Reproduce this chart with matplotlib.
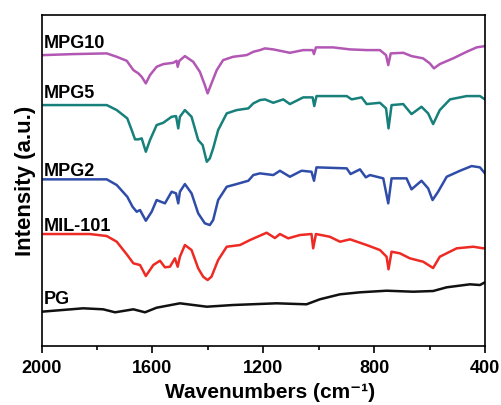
import matplotlib.pyplot as plt
from matplotlib.ticker import MultipleLocator

plt.rcParams['font.family'] = ['Liberation Sans', 'DejaVu Sans']
plt.rcParams['font.weight'] = 'bold'

# FTIR spectra, wavenumber (cm-1) vs intensity (a.u., already offset)
mpg10_wn = [1994, 1886, 1765, 1729, 1693, 1669, 1651, 1639, 1624, 1609, 1585, 1561,
            1525, 1513, 1509, 1503, 1483, 1453, 1429, 1411, 1401, 1387, 1368, 1345,
            1309, 1260, 1236, 1212, 1194, 1164, 1104, 1056, 1022, 1017, 1010, 948,
            887, 827, 779, 757, 749, 740, 695, 665, 623, 599, 584, 563, 515, 466, 430, 400]
mpg10_i = [350, 351, 351.7, 348.3, 344.3, 335, 331.7, 328.3, 321.7, 330, 338.3, 341,
           342.3, 344.3, 338.3, 344.3, 349, 343.3, 333.3, 320, 311.7, 321.7, 335, 345,
           348.3, 350, 353.3, 355, 356.7, 355.7, 352.3, 355, 355, 351, 357.7, 357.7,
           355.7, 355, 355, 350, 340, 351.7, 352.3, 349, 346.7, 341.7, 336.7, 341, 346.7, 353.3, 357.7, 359]

mpg5_wn = [1994, 1765, 1729, 1691, 1675, 1663, 1651, 1639, 1624, 1609, 1585, 1561,
           1531, 1515, 1507, 1501, 1483, 1459, 1435, 1419, 1404, 1393, 1381, 1363,
           1332, 1296, 1254, 1236, 1212, 1194, 1164, 1128, 1104, 1056, 1022, 1016,
           1008, 899, 881, 845, 827, 779, 757, 748, 737, 695, 665, 629, 605, 587,
           563, 526, 466, 418, 400]
mpg5_i = [300, 300, 295, 286.7, 275, 265.7, 265.7, 266.7, 253.3, 265, 280, 282.3,
          288.3, 289, 276.7, 288.3, 295, 288.3, 265, 260, 243.3, 246.7, 256.7, 275,
          291.7, 295, 296.7, 301.7, 305, 305.7, 302.3, 305.7, 301, 307.7, 307.7, 299,
          309, 309, 305.7, 307.7, 301, 302.3, 296.7, 276.7, 300, 301, 291, 298.3, 291.7, 281,
          295, 305.7, 309, 309, 305.7]

mpg2_wn = [1994, 1765, 1729, 1691, 1672, 1657, 1645, 1624, 1603, 1585, 1555, 1531,
           1515, 1507, 1501, 1483, 1459, 1435, 1411, 1393, 1381, 1363, 1332, 1296,
           1254, 1236, 1212, 1164, 1140, 1104, 1062, 1026, 1017, 1008, 899, 885,
           851, 830, 815, 767, 749, 737, 683, 665, 629, 605, 589, 569, 538, 490,
           448, 418, 400]
mpg2_i = [225.7, 225.7, 220, 208.3, 198.3, 193.3, 195, 184.3, 193.3, 205, 201.7, 213.3,
          211.7, 201.7, 213.3, 221, 211.7, 191.7, 181.7, 180, 185, 205, 218.3, 221,
          224.3, 230, 231.7, 230, 234.3, 228.3, 234.3, 233.3, 224.3, 237.7, 236.7, 231,
          235.7, 227.7, 230, 226.7, 201.7, 226.7, 226.7, 215.7, 224.3, 216.7, 205, 213.3, 228.3, 234.3,
          239, 237.7, 231.7]

mil101_wn = [1994, 1826, 1765, 1729, 1691, 1669, 1645, 1624, 1597, 1573, 1555, 1537,
             1519, 1509, 1501, 1483, 1459, 1435, 1417, 1401, 1387, 1363, 1332, 1284,
             1248, 1188, 1158, 1140, 1110, 1068, 1026, 1020, 1010, 960, 923, 887,
             827, 779, 755, 748, 737, 707, 671, 623, 587, 563, 502, 442, 406, 400]
mil101_i = [171, 171, 169, 163.3, 150, 141.7, 140, 129, 140, 144.3, 137.7, 138.3,
            146.7, 138.3, 148.3, 160, 155, 136.7, 128.3, 125, 128.3, 145, 158.3, 160,
            165, 172.3, 167, 171, 166.7, 170, 171, 156.7, 171, 168.3, 163.3, 165.7,
            160, 155, 148.3, 135.7, 153.3, 151.7, 146.7, 143.3, 137, 148.3, 156.7, 158.3, 156.7, 157]

pg_wn = [2000, 1850, 1778, 1735, 1669, 1627, 1585, 1501, 1404, 1309, 1152, 1044,
         996, 923, 851, 755, 659, 587, 538, 454, 418, 400]
pg_i = [93.3, 96.7, 95.7, 92.7, 95.7, 92.7, 97.3, 101.7, 98.3, 100, 101.7, 100.7,
        105.7, 110.7, 112.7, 114.3, 113.3, 114, 117.7, 120.7, 120, 122.7]

names = ['MPG10', 'MPG5', 'MPG2', 'MIL-101', 'PG']
colors = ['#b257b3', '#17807b', '#2f4da8', '#ee2a24', '#111111']
label_y = [362, 311.5, 233.5, 179, 106]

spectra = [(mpg10_wn, mpg10_i), (mpg5_wn, mpg5_i), (mpg2_wn, mpg2_i),
           (mil101_wn, mil101_i), (pg_wn, pg_i)]

fig = plt.figure(figsize=(5.02, 4.05), dpi=100)
ax = fig.add_axes([0.083, 0.1457, 0.883, 0.817])

for (wn, inten), c in zip(spectra, colors):
    ax.plot(wn, inten, color=c, lw=1.8, solid_joinstyle='round')

for name, y in zip(names, label_y):
    ax.text(1991, y, name, fontsize=13, fontweight='bold', va='center', ha='left')

ax.set_xlim(2000, 400)
ax.set_ylim(59, 390)
ax.xaxis.set_major_locator(MultipleLocator(400))
ax.xaxis.set_minor_locator(MultipleLocator(200))
ax.set_yticks([])
ax.tick_params(axis='x', which='major', direction='out', length=5, width=1.2,
               labelsize=13, pad=5)
ax.tick_params(axis='x', which='minor', direction='out', length=3, width=1.2)
for lab in ax.get_xticklabels():
    lab.set_fontweight('bold')
for sp in ax.spines.values():
    sp.set_linewidth(1.2)

# x label placed by hand so it sits just above the lower edge
fig.text(0.538, 0.008, 'Wavenumbers (cm\u207b\u00b9)', fontsize=15, fontweight='bold',
         ha='center', va='bottom')
ax.set_ylabel('Intensity (a.u.)', fontsize=16, fontweight='bold', labelpad=4)

fig.savefig('out.png', dpi=100)
